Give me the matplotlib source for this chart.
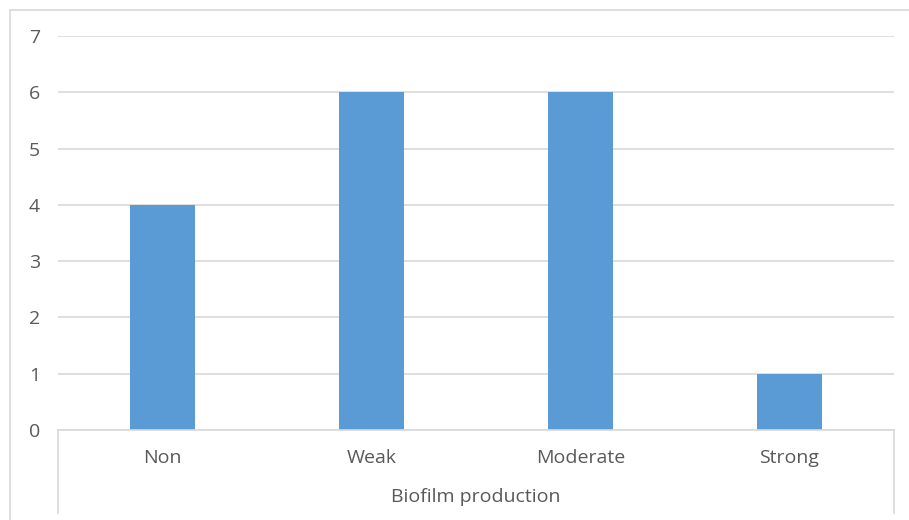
import matplotlib.pyplot as plt
import matplotlib.patches as mpatches
import matplotlib.transforms as transforms
import numpy as np

categories = ['Non', 'Weak', 'Moderate', 'Strong']
counts = [4, 6, 6, 1]
yticks = [0, 1, 2, 3, 4, 5, 6, 7]
axis_title = 'Biofilm production'

BAR_COLOR = '#5b9bd5'
GRID_COLOR = '#d9d9d9'
TEXT_COLOR = '#595959'

plt.rcParams['font.family'] = ['Open Sans', 'DejaVu Sans']

fw, fh = 9.09, 5.2
fig = plt.figure(figsize=(fw, fh), dpi=100)
fig.patch.set_facecolor('white')

lm, rm = 58/909, 894/909
bm, tm = (520-430)/520, (520-36)/520
ax = fig.add_axes([lm, bm, rm-lm, tm-bm])

xpos = np.arange(len(categories))
ax.bar(xpos, counts, width=0.31, color=BAR_COLOR, zorder=2)

ax.set_xlim(-0.5, len(categories)-0.5)
ax.set_ylim(0, 7)
ax.set_yticks(yticks)
ax.set_yticklabels([str(t) for t in yticks])
ax.set_xticks([])
ax.grid(axis='y', color=GRID_COLOR, linewidth=1.2, zorder=0)
ax.set_axisbelow(True)
for s in ['top', 'right', 'left']:
    ax.spines[s].set_visible(False)
ax.spines['bottom'].set_color(GRID_COLOR)
ax.spines['bottom'].set_linewidth(1.2)
ax.tick_params(axis='y', length=0, pad=13, labelsize=14,
               labelcolor=TEXT_COLOR)

# Category axis: labels, box sides and axis title.
trans = transforms.blended_transform_factory(ax.transData, ax.transAxes)
for x, lab in zip(xpos, categories):
    ax.text(x, -28/394, lab, transform=trans, ha='center', va='center',
            fontsize=14, color=TEXT_COLOR)
for xe in [0, 1]:
    ax.plot([xe, xe], [0, -83/394], transform=ax.transAxes, clip_on=False,
            color=GRID_COLOR, linewidth=1.2)
ax.text(0.5, -67/394, axis_title, transform=ax.transAxes, ha='center',
        va='center', fontsize=14, color=TEXT_COLOR)

# Outer chart border (runs off the right and bottom of the picture).
fig.patches.append(mpatches.Rectangle((10/909, -0.2), 1.0, 0.2+510/520,
                                      transform=fig.transFigure, fill=False,
                                      edgecolor=GRID_COLOR, linewidth=1.2))

fig.savefig('out.png', dpi=100)
